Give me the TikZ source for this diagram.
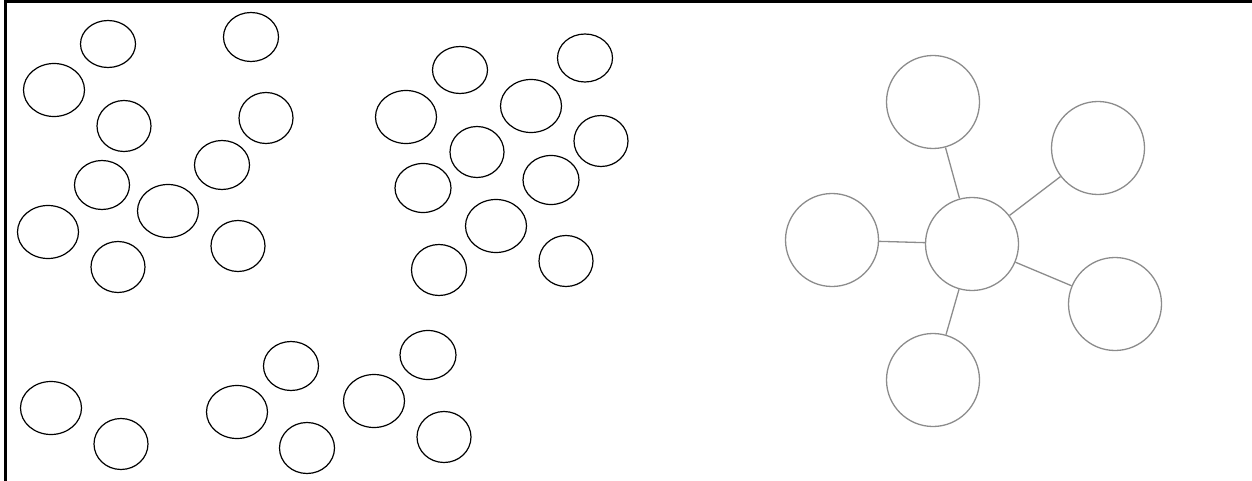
\documentclass[tikz,border=0pt]{standalone}
\usepackage{tikz}
\usetikzlibrary{shapes.geometric, positioning}

\tikzset{
  blob/.style={ellipse, draw=black, line width=1.2pt, inner sep=0pt},
  ring/.style={circle, draw=gray!90, line width=1.3pt, minimum size=93pt, inner sep=0pt},
  spoke/.style={draw=gray!90, line width=1.3pt}
}

\begin{document}
\begin{tikzpicture}[x=1pt, y=-1pt]
    \useasboundingbox (0,0) rectangle (1252,481);
    % Frame
    \draw[line width=3pt] (5,481) -- (5,1.5) -- (1252,1.5);

    % Scattered ellipses
    \foreach \name/\x/\y/\w/\h in {
        a1/108/44/55/47, a2/54/90/61/53, a3/124/126/54/51, a4/251/37/55/49,
        a5/266/118/54/51, a6/222/165/55/49, a7/102/185/55/49, a8/168/211/61/53,
        a9/48/232/61/53, a10/238/246/54/51, a11/118/267/54/51,
        b1/460/70/55/47, b2/585/58/55/48, b3/406/117/61/53, b4/531/106/61/53,
        b5/477/152/54/51, b6/601/141/54/51, b7/423/188/56/49, b8/551/180/56/49,
        b9/496/226/61/53, b10/439/270/55/51, b11/566/261/54/51,
        c1/51/408/61/53, c2/121/444/54/51, c3/237/412/61/53, c4/291/366/55/49,
        c5/307/448/55/51, c6/374/401/61/53, c7/428/355/56/49, c8/444/437/54/51}
        \node[blob, minimum width=\w pt, minimum height=\h pt] (\name) at (\x,\y) {};

    % Star graph
    \node[ring] (hub) at (972,244) {};
    \node[ring] (top) at (933,102) {};
    \node[ring] (upright) at (1098,148) {};
    \node[ring] (left) at (832,240) {};
    \node[ring] (lowright) at (1115,304) {};
    \node[ring] (bottom) at (933,380) {};

    % Connections
    \foreach \leaf in {top, upright, left, lowright, bottom}
        \draw[spoke] (hub) -- (\leaf);
\end{tikzpicture}
\end{document}
